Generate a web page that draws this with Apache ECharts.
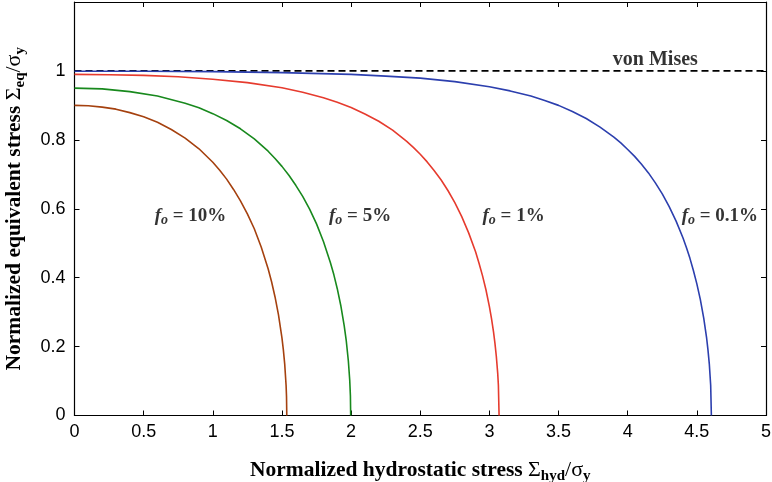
<!DOCTYPE html>
<html><head><meta charset="utf-8">
<script src="https://cdn.jsdelivr.net/npm/echarts@6/dist/echarts.min.js"></script>
<style>html,body{margin:0;padding:0;background:#fff}#c{width:772px;height:482px}</style>
</head><body><div id="c"></div>
<script>
// Data: [hydrostatic stress, equivalent stress]
var curve10 = [[0,0.9],[0.1,0.899],[0.2,0.895],[0.3,0.889],[0.4,0.879],[0.5,0.867],[0.6,0.851],[0.7,0.830],[0.8,0.805],[0.9,0.774],[1.0,0.735],[1.05,0.712],[1.1,0.686],[1.15,0.656],[1.2,0.623],[1.25,0.585],[1.3,0.542],[1.35,0.489],[1.4,0.426],[1.425,0.388],[1.45,0.344],[1.475,0.292],[1.5,0.225],[1.51,0.191],[1.52,0.149],[1.53,0.087],[1.533,0.055],[1.535,0]];
var curve5 = [[0,0.95],[0.2,0.948],[0.4,0.940],[0.6,0.927],[0.8,0.906],[0.9,0.893],[1.0,0.876],[1.1,0.856],[1.2,0.832],[1.3,0.803],[1.4,0.767],[1.45,0.746],[1.5,0.723],[1.55,0.697],[1.6,0.668],[1.65,0.636],[1.7,0.599],[1.75,0.556],[1.8,0.505],[1.85,0.444],[1.875,0.409],[1.9,0.368],[1.925,0.320],[1.95,0.261],[1.965,0.217],[1.98,0.159],[1.99,0.103],[1.995,0.057],[1.997,0]];
var curve1 = [[0,0.99],[0.25,0.989],[0.5,0.987],[0.75,0.983],[1.0,0.976],[1.25,0.966],[1.5,0.951],[1.65,0.938],[1.8,0.922],[1.9,0.909],[2.0,0.894],[2.1,0.875],[2.2,0.854],[2.3,0.828],[2.4,0.796],[2.45,0.778],[2.5,0.758],[2.55,0.736],[2.6,0.711],[2.65,0.684],[2.7,0.653],[2.75,0.618],[2.8,0.577],[2.85,0.530],[2.9,0.475],[2.925,0.442],[2.95,0.406],[2.975,0.365],[3.0,0.316],[3.015,0.282],[3.03,0.242],[3.04,0.210],[3.05,0.172],[3.06,0.123],[3.065,0.088],[3.07,0]];
var curve01 = [[0,0.999],[0.5,0.999],[1.0,0.998],[1.5,0.995],[2.0,0.990],[2.25,0.985],[2.5,0.979],[2.75,0.969],[3.0,0.954],[3.15,0.942],[3.3,0.927],[3.4,0.914],[3.5,0.900],[3.6,0.882],[3.7,0.862],[3.8,0.837],[3.9,0.808],[3.95,0.791],[4.0,0.772],[4.05,0.752],[4.1,0.729],[4.15,0.704],[4.2,0.675],[4.25,0.643],[4.3,0.606],[4.35,0.564],[4.4,0.515],[4.425,0.487],[4.45,0.456],[4.475,0.421],[4.5,0.382],[4.525,0.337],[4.55,0.282],[4.57,0.227],[4.58,0.192],[4.59,0.150],[4.6,0.088],[4.605,0]];
var vonMises = [[0,1],[5,1]];
var xTicks = [0,0.5,1,1.5,2,2.5,3,3.5,4,4.5,5];
var yTicks = [0,0.2,0.4,0.6,0.8,1];
var labels = [
  {pos:[0.58,0.58], text:'10%'},
  {pos:[1.84,0.58], text:'5%'},
  {pos:[2.95,0.58], text:'1%'},
  {pos:[4.39,0.58], text:'0.1%'}
];
var vmLabel = {pos:[4.2,1.032], text:'von Mises'};

var chart = echarts.init(document.getElementById('c'));
var serif = '"Liberation Serif","Times New Roman",serif';
var sans = '"Liberation Sans",Arial,sans-serif';
function line(d, color, extra){
  return Object.assign({type:'line', data:d, showSymbol:false, symbol:'none', smooth:false,
    lineStyle:{color:color, width:1.6}, itemStyle:{color:color}, silent:true, z:3, xAxisIndex:0, yAxisIndex:0}, extra||{});
}
var fRich = {
  f:{fontFamily:serif, fontStyle:'italic', fontWeight:'bold', fontSize:19, color:'#000'},
  o:{fontFamily:serif, fontStyle:'italic', fontWeight:'bold', fontSize:14, color:'#000', padding:[9,0,0,0]},
  t:{fontFamily:serif, fontWeight:'bold', fontSize:19, color:'#000'}
};
var titleRich = {
  t:{fontFamily:serif, fontWeight:'bold', fontSize:21.5, color:'#000'},
  s:{fontFamily:serif, fontSize:22, color:'#000'},
  sub:{fontFamily:serif, fontWeight:'bold', fontSize:15, color:'#000', padding:[11,0,0,0]}
};
var common = {
  min:0, axisLine:{show:true, onZero:false, lineStyle:{color:'#000', width:1.2}},
  axisTick:{show:true, inside:true, length:5, lineStyle:{color:'#000'}},
  splitLine:{show:false}
};
chart.setOption({
  animation:false,
  grid:{left:74.5, right:6, top:2, bottom:66.5, containLabel:false, outerBoundsMode:'none'},
  xAxis:[
    Object.assign({}, common, {type:'value', max:5, interval:0.5, position:'bottom',
      axisLabel:{fontFamily:sans, fontSize:18, color:'#000', margin:8,
        formatter:function(v){return xTicks.indexOf(v)>=0 ? String(v) : '';}},
      name:'{t|Normalized hydrostatic stress }{s|Σ}{sub|hyd}{s|/σ}{sub|y}', nameLocation:'middle', nameGap:42,
      nameTextStyle:{rich:titleRich}}),
    Object.assign({}, common, {type:'value', max:5, interval:0.5, position:'top', axisLabel:{show:false}})
  ],
  yAxis:[
    Object.assign({}, common, {type:'value', max:1.2, interval:0.2, position:'left',
      axisLabel:{fontFamily:sans, fontSize:18, color:'#000', margin:9,
        formatter:function(v){var r=Math.round(v*10)/10; return yTicks.indexOf(r)>=0 ? String(r) : '';}},
      name:'{t|Normalized equivalent stress }{s|Σ}{sub|eq}{s|/σ}{sub|y}', nameLocation:'middle', nameGap:47, nameRotate:90,
      nameTextStyle:{rich:titleRich}}),
    Object.assign({}, common, {type:'value', max:1.2, interval:0.2, position:'right', axisLabel:{show:false}})
  ],
  series:[
    line(vonMises, '#000', {lineStyle:{color:'#000', width:1.6, type:[7,4]}, z:2}),
    line(curve10, '#a5410f'),
    line(curve5, '#18891d'),
    line(curve1, '#e63b2e'),
    line(curve01, '#2c3fae'),
    {type:'scatter', symbolSize:0, silent:true, z:5,
      data: labels.map(function(l){return {value:l.pos, label:{show:true, position:'right', distance:0,
        formatter:'{f|f}{o|o}{t| = '+l.text+'}', rich:fRich}};})},
    {type:'scatter', symbolSize:0, silent:true, z:5,
      data:[{value:vmLabel.pos, label:{show:true, position:'inside', formatter:vmLabel.text,
        fontFamily:serif, fontWeight:'bold', fontSize:20, color:'#000'}}]}
  ]
});
</script></body></html>
